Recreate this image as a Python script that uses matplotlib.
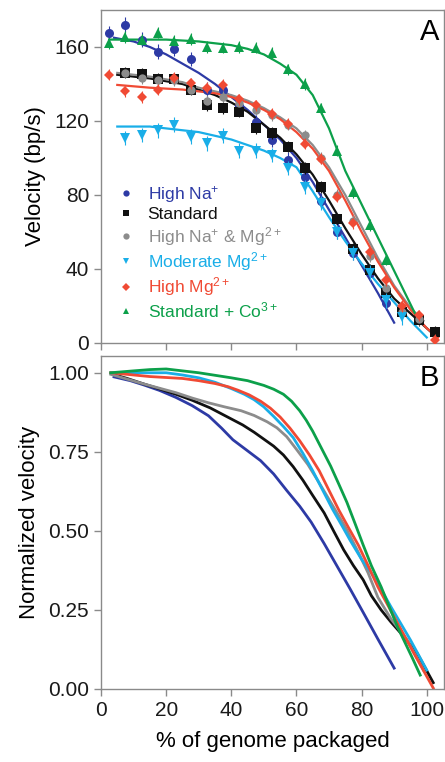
import matplotlib
matplotlib.use("Agg")
import matplotlib.pyplot as plt
from matplotlib.lines import Line2D

plt.rcParams['font.family'] = ['Liberation Sans', 'DejaVu Sans']
plt.rcParams['mathtext.fontset'] = 'custom'
plt.rcParams['mathtext.rm'] = 'Liberation Sans'
plt.rcParams['mathtext.default'] = 'regular'

# ---------------- data: panel A (measured points) ----------------
labels = ['High Na$^{+}$', 'Standard', 'High Na$^{+}$ & Mg$^{2+}$',
          'Moderate Mg$^{2+}$', 'High Mg$^{2+}$', 'Standard + Co$^{3+}$']

na_x = [2.5, 7.5, 12.5, 17.5, 22.5, 27.5, 32.5, 37.5, 42.5, 47.5, 52.5, 57.5,
        62.5, 67.5, 72.5, 77.5, 82.5, 87.5]
na_y = [167.5, 172, 164, 157.5, 159, 153.5, 137, 137, 128, 119.5, 110, 99,
        90, 77, 60, 48.6, 38, 21.6]

std_x = [7.5, 12.5, 17.5, 22.5, 27.5, 32.5, 37.5, 42.5, 47.5, 52.5, 57.5,
         62.5, 67.5, 72.5, 77.5, 82.5, 87.5, 92.5, 97.5, 102.5]
std_y = [146, 145.4, 142.7, 142.7, 137, 128.6, 127, 125, 116, 113.5, 106,
         94.6, 84.3, 67, 51, 39.5, 27, 16.8, 12.4, 6]

namg_x = [7.5, 12.5, 17.5, 22.5, 27.5, 32.5, 37.5, 42.5, 47.5, 52.5, 57.5,
          62.5, 67.5, 72.5, 77.5, 82.5, 87.5, 92.5, 97.5]
namg_y = [146, 143, 142, 142, 137, 131, 133, 130, 126, 123, 118,
          112.4, 100, 80, 66, 47, 30, 17, 13]

mod_x = [7.5, 12.5, 17.5, 22.5, 27.5, 32.5, 37.5, 42.5, 47.5, 52.5, 57.5,
         62.5, 67.5, 72.5, 77.5, 82.5, 87.5, 92.5]
mod_y = [110.8, 112.4, 115, 118, 111.6, 108, 112, 104, 104, 101.6, 94.6,
         84.3, 75.7, 60, 48.6, 38, 23, 14]

hmg_x = [2.5, 7.5, 12.5, 17.5, 22.5, 27.5, 32.5, 37.5, 42.5, 47.5, 52.5,
         57.5, 62.5, 67.5, 72.5, 77.5, 82.5, 87.5, 92.5, 97.5, 102.5]
hmg_y = [145, 136, 133, 136.8, 143.5, 140.5, 138, 139.5, 131.7, 128.6, 124,
         118.6, 107.6, 99.5, 79, 64.8, 49, 34, 20, 15, 1.6]

co_x = [2.5, 7.5, 12.5, 17.5, 22.5, 27.5, 32.5, 37.5, 42.5, 47.5, 52.5,
        57.5, 62.5, 67.5, 72.5, 77.5, 82.5, 87.5]
co_y = [162, 165.4, 164, 167.6, 163.5, 164.3, 160, 159.5, 160, 159.5, 157,
        148, 140, 127, 104, 81.6, 63.8, 45]

errs = [4, 3, 3, 4, 3, 3]

# ---------------- data: panel A (fit curves) ----------------
na_fx = [4, 10, 15, 20, 25, 30, 35, 40, 45, 50, 55, 60, 65, 70, 75, 80, 85, 90]
na_fy = [165, 163, 160, 156, 151, 146, 140, 133, 126, 118, 110, 100, 87, 72, 57, 42, 27, 11]

std_fx = [5, 15, 25, 30, 35, 40, 45, 50, 55, 60, 65, 70, 75, 80, 85, 90, 95, 100, 102.5]
std_fy = [145, 143, 140, 137, 134, 130, 125, 118, 111, 102, 91, 77, 62, 48, 35, 24, 16, 8, 4]

namg_fx = [5, 15, 25, 30, 35, 40, 45, 50, 55, 60, 65, 70, 75, 80, 85, 90, 95, 99]
namg_fy = [146, 144, 141, 138, 136, 134, 131, 127, 122, 116, 107, 95, 80, 63, 46, 31, 19, 12]

mod_fx = [5, 15, 20, 25, 30, 35, 40, 45, 50, 55, 60, 65, 70, 75, 80, 85, 90, 95, 100]
mod_fy = [117, 117, 116, 115, 114, 112, 110, 107, 104, 100, 95, 82, 68, 55, 43, 32, 22, 12, 3]

hmg_fx = [5, 15, 25, 30, 35, 40, 45, 50, 55, 60, 65, 70, 75, 80, 85, 90, 95, 100, 103.5]
hmg_fy = [139.5, 138, 137, 136, 135, 133, 130, 126, 121, 114, 105, 93, 77, 60, 44, 30, 18, 8, 3]

co_fx = [2.5, 10, 20, 30, 40, 45, 50, 55, 60, 65, 70, 75, 80, 85, 90, 97.5]
co_fy = [164, 164, 164, 163, 161, 159, 156, 151, 145, 134, 116, 93, 75, 57, 39, 12]

# ---------------- data: panel B (normalized velocity) ----------------
na_bx = [4, 9, 13, 18, 23, 28, 33, 37, 40.5, 44.5, 49, 53, 57, 61, 64.5, 68.5,
         72.5, 76.5, 80.5, 85, 90]
na_by = [0.987, 0.975, 0.962, 0.944, 0.922, 0.896, 0.864, 0.825, 0.788, 0.757,
         0.722, 0.68, 0.628, 0.578, 0.528, 0.46, 0.388, 0.316, 0.242, 0.158, 0.066]

std_bx = [4, 8, 13, 18, 23, 28, 33.5, 38.5, 43.5, 47, 50, 53, 56, 59, 62, 65,
          68.5, 71.5, 74.5, 77.5, 80.5, 83, 86, 89, 92, 97, 102]
std_by = [0.994, 0.982, 0.965, 0.949, 0.932, 0.913, 0.889, 0.862, 0.835, 0.812,
          0.79, 0.768, 0.74, 0.703, 0.66, 0.612, 0.557, 0.498, 0.44, 0.39, 0.345,
          0.295, 0.25, 0.212, 0.177, 0.114, 0.02]

namg_bx = [3, 8, 13, 18, 23, 28, 33, 38, 43, 47, 51, 54, 57, 60, 63.5, 66.5,
           69.5, 72.5, 75.5, 79, 82, 85, 89, 94, 99]
namg_by = [0.995, 0.98, 0.965, 0.951, 0.937, 0.92, 0.905, 0.892, 0.88, 0.865,
           0.845, 0.826, 0.798, 0.758, 0.71, 0.66, 0.608, 0.556, 0.503, 0.432,
           0.367, 0.29, 0.222, 0.155, 0.06]

mod_bx = [3, 10, 15, 20, 25, 30, 35, 40, 44, 47, 50, 53, 56, 59, 62, 65, 68,
          71, 74, 76.5, 80, 83, 86, 89, 95, 100]
mod_by = [1.0, 1.0, 1.0, 1.0, 0.993, 0.984, 0.97, 0.95, 0.932, 0.915, 0.892,
          0.862, 0.83, 0.795, 0.745, 0.69, 0.63, 0.57, 0.516, 0.47, 0.41,
          0.367, 0.315, 0.26, 0.155, 0.06]

hmg_bx = [3, 10, 15, 20, 25, 30, 35, 39, 42, 45.5, 49, 52, 55, 58, 61, 64, 67,
          70, 73, 76, 79, 82, 85, 88, 91, 96, 102]
hmg_by = [1.0, 0.993, 0.988, 0.985, 0.982, 0.975, 0.966, 0.956, 0.945, 0.93,
          0.91, 0.888, 0.86, 0.825, 0.785, 0.74, 0.69, 0.628, 0.566, 0.51, 0.455,
          0.39, 0.323, 0.266, 0.209, 0.114, 0.003]

co_bx = [3, 10, 15, 20, 25, 30, 35, 40, 45, 50, 53, 56, 58.5, 61, 63, 65, 67.5,
         70.5, 73, 75.5, 78, 80.5, 83, 86, 91, 95.5, 98]
co_by = [1.0, 1.006, 1.01, 1.012, 1.006, 1.0, 0.992, 0.984, 0.975, 0.96, 0.948,
         0.932, 0.91, 0.88, 0.85, 0.815, 0.765, 0.705, 0.648, 0.59, 0.523, 0.455,
         0.39, 0.323, 0.197, 0.10, 0.044]

x_ticks = [0, 20, 40, 60, 80, 100]
a_ticks = [0, 40, 80, 120, 160]
b_ticks = [0.00, 0.25, 0.50, 0.75, 1.00]

# ---------------- styles ----------------
colors = ['#2d3aa5', '#111111', '#8c8c8c', '#19aee8', '#f04a34', '#0ca04a']
markers = ['o', 's', 'o', 'v', 'D', '^']
msizes = [6.5, 6.5, 6, 6.5, 5.5, 6.5]

pts = [(na_x, na_y), (std_x, std_y), (namg_x, namg_y), (mod_x, mod_y),
       (hmg_x, hmg_y), (co_x, co_y)]
fits = [(na_fx, na_fy), (std_fx, std_fy), (namg_fx, namg_fy), (mod_fx, mod_fy),
        (hmg_fx, hmg_fy), (co_fx, co_fy)]
norm = [(na_bx, na_by), (std_bx, std_by), (namg_bx, namg_by), (mod_bx, mod_by),
        (hmg_bx, hmg_by), (co_bx, co_by)]

draw_order = [2, 3, 0, 1, 4, 5]

fig = plt.figure(figsize=(4.45, 7.62), dpi=100)
axA = fig.add_axes([101 / 445, (762 - 343) / 762, 343 / 445, 333 / 762])
axB = fig.add_axes([101 / 445, (762 - 689) / 762, 343 / 445, 333 / 762])

spine_col = '#8a8a8a'
for ax in (axA, axB):
    for s in ax.spines.values():
        s.set_color(spine_col)
        s.set_linewidth(1.0)
    ax.tick_params(direction='out', length=5, width=1, color=spine_col,
                   labelsize=15, labelcolor='#1a1a1a', top=False, right=False)
    ax.set_xlim(0, 105.3)
    ax.set_xticks(x_ticks)

# Panel A
for i in draw_order:
    fx, fy = fits[i]
    axA.plot(fx, fy, color=colors[i], lw=1.6, zorder=2 + i * 0.1)
for i in draw_order:
    px, py = pts[i]
    axA.errorbar(px, py, yerr=errs[i], fmt=markers[i], color=colors[i],
                 ms=msizes[i], mew=0, elinewidth=0.8, capsize=3, capthick=0.8,
                 ecolor=colors[i], alpha=1, zorder=3 + i * 0.1)
axA.set_ylim(0, 180)
axA.set_yticks(a_ticks)
axA.set_xticklabels([])
axA.set_ylabel('Velocity (bp/s)', fontsize=16, labelpad=6)
axA.text(0.985, 0.975, 'A', transform=axA.transAxes, ha='right', va='top',
         fontsize=21)

handles = [Line2D([], [], ls='none', marker=markers[i], color=colors[i],
                  ms=4.5, mew=0) for i in range(6)]
leg = axA.legend(handles, labels, loc='upper left',
                 bbox_to_anchor=(0.012, 0.515), frameon=False, fontsize=12.5,
                 handlelength=1.0, handletextpad=0.75, labelspacing=0.14,
                 borderpad=0.2)
for t, c in zip(leg.get_texts(), colors):
    t.set_color(c)

# Panel B
for i in draw_order:
    bx, by = norm[i]
    axB.plot(bx, by, color=colors[i], lw=2.0, zorder=2 + i * 0.1)
axB.set_ylim(0, 1.053)
axB.set_yticks(b_ticks)
axB.set_yticklabels(['%.2f' % v for v in b_ticks])
axB.set_ylabel('Normalized velocity', fontsize=16, labelpad=6)
axB.set_xlabel('% of genome packaged', fontsize=16, labelpad=8)
axB.text(0.985, 0.975, 'B', transform=axB.transAxes, ha='right', va='top',
         fontsize=21)

fig.savefig('out.png', dpi=100)
